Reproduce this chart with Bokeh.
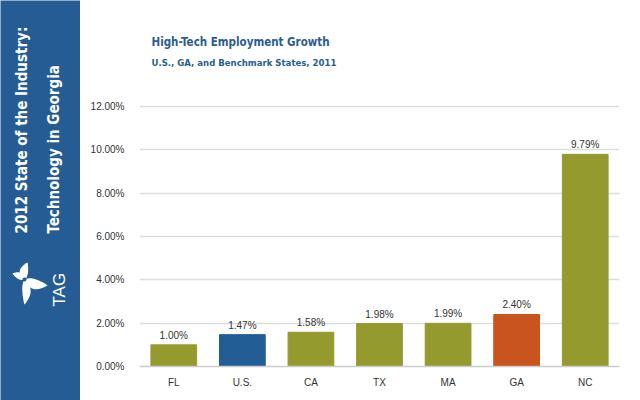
import math
from bokeh.plotting import figure
from bokeh.layouts import row, column
from bokeh.models import (ColumnDataSource, FactorRange, Range1d, FixedTicker,
                          PrintfTickFormatter, LabelSet)
from bokeh.embed import file_html
from bokeh.resources import INLINE
from bokeh.core.properties import value

# --- data -------------------------------------------------------------
states = ["FL", "U.S.", "CA", "TX", "MA", "GA", "NC"]
growth_pct = [1.00, 1.47, 1.58, 1.98, 1.99, 2.40, 9.79]
bar_colors = ["#959a2f", "#225e95", "#959a2f", "#959a2f", "#959a2f", "#c9541f", "#959a2f"]
y_ticks = [0, 2, 4, 6, 8, 10, 12]

title_text = "High-Tech Employment Growth"
subtitle_text = "U.S., GA, and Benchmark States, 2011"
side_line1 = "2012 State of the Industry:"
side_line2 = "Technology in Georgia"

SIDE_BLUE = "#245c93"
TITLE_BLUE = "#2b5d93"
CONDENSED = "DejaVu Sans Condensed"


def leaf(cx, cy, dx, dy, width, bend):
    """Outline of a pointed petal growing from (cx, cy) along (dx, dy)."""
    length = math.hypot(dx, dy)
    ux, uy = dx / length, dy / length
    nx, ny = -uy, ux
    xs, ys = [], []
    n = 16
    for side_sign in (1, -1):
        rng = range(n + 1) if side_sign == 1 else range(n, -1, -1)
        for i in rng:
            t = i / n
            half = width * math.sin(math.pi * t) ** 0.8 * (1 - 0.35 * t)
            off = side_sign * half + bend * math.sin(math.pi * t)
            xs.append(cx + ux * length * t + nx * off)
            ys.append(cy + uy * length * t + ny * off)
    return xs, ys


def blank(fig):
    fig.axis.visible = False
    fig.grid.visible = False
    fig.frame_align = False


# --- sidebar -----------------------------------------------------------
side = figure(width=80, height=400, x_range=Range1d(0, 80), y_range=Range1d(0, 400),
              toolbar_location=None, output_backend="svg",
              min_border=0, background_fill_color=SIDE_BLUE,
              border_fill_color=SIDE_BLUE, outline_line_color=None)
blank(side)

side.text(x=[21], y=[167], text=[side_line1], angle=math.pi / 2,
          text_font=value(CONDENSED), text_font_style="bold", text_font_size="15px",
          text_color="white", text_align="left", text_baseline="middle")
side.text(x=[53], y=[167], text=[side_line2], angle=math.pi / 2,
          text_font=value(CONDENSED), text_font_style="bold", text_font_size="15px",
          text_color="white", text_align="left", text_baseline="middle")

# TAG logo: four-petal pinwheel and lettering
lcx, lcy = 24, 121
petals = [(3, 17, 5, 2), (23, -6, 6, -2), (0, -25, 5, 2), (-12, 6, 4, -1)]
pxs, pys = [], []
for dx, dy, w, b in petals:
    xs, ys = leaf(lcx, lcy, dx, dy, w, b)
    pxs.append(xs)
    pys.append(ys)
side.patches(xs=pxs, ys=pys, fill_color="white", line_color=None)
side.scatter(x=[lcx], y=[lcy], size=4, fill_color=SIDE_BLUE, line_color=None)
side.text(x=[59], y=[94], text=["TAG"], angle=math.pi / 2,
          text_font=value("Liberation Sans"), text_font_size="17px",
          text_color="white", text_align="left", text_baseline="middle")

# --- heading strip above the chart -------------------------------------
head = figure(width=560, height=90, x_range=Range1d(0, 560), y_range=Range1d(0, 90),
              toolbar_location=None, output_backend="svg", min_border=0,
              background_fill_color="white", border_fill_color="white",
              outline_line_color=None)
blank(head)
head.text(x=[71], y=[90 - 41], text=[title_text],
          text_font=value(CONDENSED), text_font_style="bold", text_font_size="11.5px",
          text_color=TITLE_BLUE, text_align="left", text_baseline="middle")
head.text(x=[71], y=[90 - 61.5], text=[subtitle_text],
          text_font=value(CONDENSED), text_font_style="bold", text_font_size="9.5px",
          text_color=TITLE_BLUE, text_align="left", text_baseline="middle")

# --- main chart -------------------------------------------------------
source = ColumnDataSource(dict(
    state=states, pct=growth_pct, color=bar_colors,
    label=["%.2f%%" % v for v in growth_pct],
))

px_per_unit = 21.67
frame_h = 276
p = figure(width=560, height=310, x_range=FactorRange(*states, range_padding=0),
           y_range=Range1d(0, frame_h / px_per_unit),
           toolbar_location=None, output_backend="svg",
           min_border_left=59, min_border_right=21, min_border_top=0,
           min_border_bottom=34, outline_line_color=None,
           background_fill_color="white", border_fill_color="white")
p.frame_align = False

p.vbar(x="state", top="pct", width=0.667, color="color", source=source)

p.add_layout(LabelSet(x="state", y="pct", text="label", source=source,
                      text_align="center", text_baseline="bottom", y_offset=4,
                      text_font=value("Liberation Sans"), text_font_size="10px",
                      text_color="#333333"))

p.xgrid.grid_line_color = None
p.ygrid.grid_line_color = "#dddddd"
p.ygrid.grid_line_width = 1.5
p.yaxis.ticker = FixedTicker(ticks=y_ticks)
p.yaxis.formatter = PrintfTickFormatter(format="%.2f%%")
p.yaxis.axis_line_color = None
p.yaxis.major_tick_line_color = None
p.yaxis.minor_tick_line_color = None
p.yaxis.major_label_standoff = 9
p.xaxis.axis_line_color = "#cccccc"
p.xaxis.axis_line_width = 1.5
p.xaxis.major_tick_line_color = None
p.xaxis.major_label_standoff = 4
for ax in (p.xaxis, p.yaxis):
    ax.major_label_text_font = "Liberation Sans"
    ax.major_label_text_font_size = "10px"
    ax.major_label_text_color = "#333333"

layout = row(side, column(head, p, spacing=0), spacing=0)
open("out.html", "w").write(file_html(layout, INLINE))
